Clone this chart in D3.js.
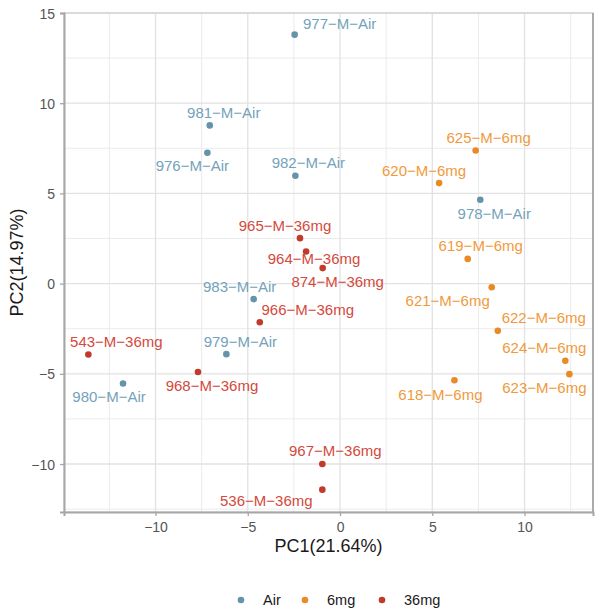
<!DOCTYPE html>
<html>
<head>
<meta charset="utf-8">
<script src="https://cdn.jsdelivr.net/npm/d3@7"></script>
<style>
  html, body { margin: 0; padding: 0; background: #ffffff; }
  svg { display: block; font-family: "Liberation Sans", Arial, sans-serif; }
</style>
</head>
<body>
<svg id="chart" width="600" height="614"></svg>
<script>
// ---- data ----
const sampleNames = ["977−M−Air","981−M−Air","976−M−Air","982−M−Air","978−M−Air","983−M−Air","979−M−Air","980−M−Air",
  "625−M−6mg","620−M−6mg","619−M−6mg","621−M−6mg","622−M−6mg","624−M−6mg","623−M−6mg","618−M−6mg",
  "965−M−36mg","964−M−36mg","874−M−36mg","966−M−36mg","543−M−36mg","968−M−36mg","967−M−36mg","536−M−36mg"];
const groups = ["Air","Air","Air","Air","Air","Air","Air","Air",
  "6mg","6mg","6mg","6mg","6mg","6mg","6mg","6mg",
  "36mg","36mg","36mg","36mg","36mg","36mg","36mg","36mg"];
const pc1 = [-2.46,-7.06,-7.19,-2.42,7.6,-4.68,-6.16,-11.76,
  7.35,5.37,6.92,8.22,8.55,12.21,12.43,6.2,
  -2.17,-1.84,-0.94,-4.35,-13.64,-7.7,-0.96,-0.96];
const pc2 = [13.8,8.77,7.25,5.98,4.65,-0.86,-3.91,-5.54,
  7.38,5.57,1.37,-0.2,-2.62,-4.28,-5.02,-5.36,
  2.52,1.78,0.86,-2.14,-3.93,-4.9,-10.0,-11.42];
const legendLevels = ["Air","6mg","36mg"];
const xTicks = [-10,-5,0,5,10];
const yTicks = [-10,-5,0,5,10,15];
const xMinor = [-12.5,-7.5,-2.5,2.5,7.5,12.5];
const yMinor = [-12.5,-7.5,-2.5,2.5,7.5,12.5];
const xTitle = "PC1(21.64%)";
const yTitle = "PC2(14.97%)";

// ---- layout (label placement, px offsets from point, repel-like) ----
const labelDx = [45,14,-15,13,14,-14,14,-14,
  13,-15,13,-44,46,-21,-25,-14,
  -15,8,15,48,28,14,13,-56];
const labelDy = [-11,-13,13,-13.5,13.5,-13,-13,13,
  -13,-13,-13,13,-13,-13,13,14,
  -13,7.5,13.5,-13,-13,14,-13,11];

const pointColor = {"Air":"#6493aa","6mg":"#e98a27","36mg":"#c13a2c"};
const labelColor = {"Air":"#74a2ba","6mg":"#f09a3c","36mg":"#d4493c"};

const svg = d3.select("#chart");
const L = 64, R = 593, T = 13, B = 512;
const x = d3.scaleLinear().domain([-14.96, 13.71]).range([L, R]);
const y = d3.scaleLinear().domain([-12.66, 15.0]).range([B, T]);

// grid
const g = svg.append("g");
g.selectAll(".xminor").data(xMinor).join("line")
  .attr("x1", d => x(d)).attr("x2", d => x(d)).attr("y1", T).attr("y2", B)
  .attr("stroke", "#ebebeb").attr("stroke-width", 1);
g.selectAll(".yminor").data(yMinor).join("line")
  .attr("y1", d => y(d)).attr("y2", d => y(d)).attr("x1", L).attr("x2", R)
  .attr("stroke", "#ebebeb").attr("stroke-width", 1);
g.selectAll(".xmajor").data(xTicks).join("line")
  .attr("x1", d => x(d)).attr("x2", d => x(d)).attr("y1", T).attr("y2", B)
  .attr("stroke", "#e2e2e2").attr("stroke-width", 1.3);
g.selectAll(".ymajor").data(yTicks).join("line")
  .attr("y1", d => y(d)).attr("y2", d => y(d)).attr("x1", L).attr("x2", R)
  .attr("stroke", "#e2e2e2").attr("stroke-width", 1.3);

// panel border
svg.append("rect").attr("x", L).attr("y", T).attr("width", R - L).attr("height", B - T)
  .attr("fill", "none").attr("stroke", "#cccccc").attr("stroke-width", 1);
svg.append("line").attr("x1", R).attr("x2", R).attr("y1", T).attr("y2", B)
  .attr("stroke", "#aaaaaa").attr("stroke-width", 2);

// axes
const xAxis = d3.axisBottom(x).tickValues(xTicks).tickSize(4).tickPadding(6)
  .tickFormat(d => d < 0 ? "−" + Math.abs(d) : d);
const yAxis = d3.axisLeft(y).tickValues(yTicks).tickSize(4).tickPadding(5)
  .tickFormat(d => d < 0 ? "−" + Math.abs(d) : d);
const gx = svg.append("g").attr("transform", `translate(0,${B})`).call(xAxis);
const gy = svg.append("g").attr("transform", `translate(${L},0)`).call(yAxis);
[gx, gy].forEach(a => {
  a.select(".domain").attr("stroke", "#a6a6a6").attr("stroke-width", 2);
  a.selectAll(".tick line").attr("stroke", "#a6a6a6").attr("stroke-width", 1.3);
  a.selectAll(".tick text").attr("fill", "#555555").attr("font-size", 14)
    .attr("font-family", "Liberation Sans, Arial, sans-serif");
});
gy.selectAll(".tick text").attr("dy", "0.36em");

// titles
svg.append("text").attr("x", (L + R) / 2).attr("y", 552).attr("text-anchor", "middle")
  .attr("font-size", 18).attr("fill", "#1a1a1a").text(xTitle);
svg.append("text").attr("transform", `translate(23,${(T + B) / 2}) rotate(-90)`)
  .attr("text-anchor", "middle").attr("font-size", 18).attr("fill", "#1a1a1a").text(yTitle);

// points
const idx = d3.range(sampleNames.length);
svg.append("g").selectAll("circle").data(idx).join("circle")
  .attr("cx", i => x(pc1[i])).attr("cy", i => y(pc2[i])).attr("r", 3.3)
  .attr("fill", i => pointColor[groups[i]]);

// labels
svg.append("g").selectAll("text").data(idx).join("text")
  .attr("x", i => x(pc1[i]) + labelDx[i]).attr("y", i => y(pc2[i]) + labelDy[i])
  .attr("text-anchor", "middle").attr("dy", "0.36em")
  .attr("font-size", 15).attr("fill", i => labelColor[groups[i]])
  .text(i => sampleNames[i]);

// legend
const legX = [241, 305, 382];
const lg = svg.append("g");
legendLevels.forEach((lv, k) => {
  lg.append("circle").attr("cx", legX[k]).attr("cy", 600).attr("r", 3.3).attr("fill", pointColor[lv]);
  lg.append("text").attr("x", legX[k] + 22).attr("y", 600).attr("dy", "0.36em")
    .attr("font-size", 14.5).attr("fill", "#1a1a1a").text(lv);
});
</script>
</body>
</html>
